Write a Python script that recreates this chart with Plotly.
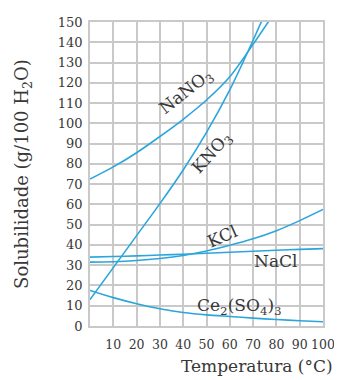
import plotly.graph_objects as go

temps = [0, 10, 20, 30, 40, 50, 60, 70, 80, 90, 100]
nano3 = [72.5, 78.5, 85.5, 93.5, 102, 111.5, 123, 139, 156, None, None]
kno3 = [13, 28.8, 44.6, 60.4, 77, 95.5, 116.5, 141, 167, None, None]
kcl = [31.5, 31.7, 32.3, 33.3, 34.8, 37, 39.8, 43, 47, 52, 57.5]
nacl = [34, 34.3, 34.6, 35, 35.4, 35.9, 36.4, 36.9, 37.4, 37.8, 38.2]
ce2so43 = [17.5, 14, 11, 8.5, 6.7, 5.5, 4.7, 3.9, 3.2, 2.6, 2.1]

x_ticks = [10, 20, 30, 40, 50, 60, 70, 80, 90, 100]
y_ticks = [0, 10, 20, 30, 40, 50, 60, 70, 80, 90, 100, 110, 120, 130, 140, 150]

LINE = "#2ba6dc"
TEXT = "#383838"
GRID = "#c9c9c9"
FONT = "DejaVu Serif"

fig = go.Figure()
for name, ys in [("NaNO3", nano3), ("KNO3", kno3), ("KCl", kcl), ("NaCl", nacl), ("Ce2(SO4)3", ce2so43)]:
    xs = [t for t, v in zip(temps, ys) if v is not None]
    vs = [v for v in ys if v is not None]
    fig.add_trace(go.Scatter(x=xs, y=vs, mode="lines", name=name,
                             line=dict(color=LINE, width=1.6, shape="spline", smoothing=0.8),
                             showlegend=False, hoverinfo="skip"))

labels = [
    ("NaNO<sub>3</sub>", 41.3, 115, -38),
    ("KNO<sub>3</sub>", 52.4, 85, -48),
    ("KCl", 57, 44.4, -24),
    ("NaCl", 79.4, 32, 0),
    ("Ce<sub>2</sub>(SO<sub>4</sub>)<sub>3</sub>", 64.1, 9.8, 0),
]
for txt, x, y, ang in labels:
    fig.add_annotation(x=x, y=y, xref="x", yref="y", text=txt, showarrow=False,
                       textangle=ang, font=dict(family=FONT, size=17, color=TEXT))

fig.add_annotation(x=1.0515, y=-0.131, xref="paper", yref="paper", xanchor="right", yanchor="middle",
                   text="Temperatura (°C)", showarrow=False,
                   font=dict(family=FONT, size=17, color=TEXT))
fig.add_annotation(x=-0.288, y=0.5, xref="paper", yref="paper", xanchor="center", yanchor="middle",
                   text="Solubilidade (g/100 H<sub>2</sub>O)", showarrow=False, textangle=-90,
                   font=dict(family=FONT, size=18, color=TEXT))

fig.update_xaxes(range=[0, 100], tickvals=x_ticks, ticktext=[str(v) for v in x_ticks],
                 showgrid=True, gridcolor=GRID, gridwidth=1.5,
                 showline=True, linecolor=GRID, linewidth=1.5, mirror=True,
                 zeroline=False, ticks="", ticklabelstandoff=6,
                 tickfont=dict(family=FONT, size=12.5, color=TEXT), fixedrange=True)
fig.update_yaxes(range=[0, 150], tickvals=y_ticks, ticktext=[str(v) for v in y_ticks],
                 showgrid=True, gridcolor=GRID, gridwidth=1.5,
                 showline=True, linecolor=GRID, linewidth=1.5, mirror=True,
                 zeroline=False, ticks="", ticklabelstandoff=3,
                 tickfont=dict(family=FONT, size=13, color=TEXT), fixedrange=True)

fig.update_layout(width=334, height=372, margin=dict(l=82, r=19, t=7, b=54),
                  paper_bgcolor="white", plot_bgcolor="white", showlegend=False)

fig.write_html("out.html", config={"displayModeBar": False})
